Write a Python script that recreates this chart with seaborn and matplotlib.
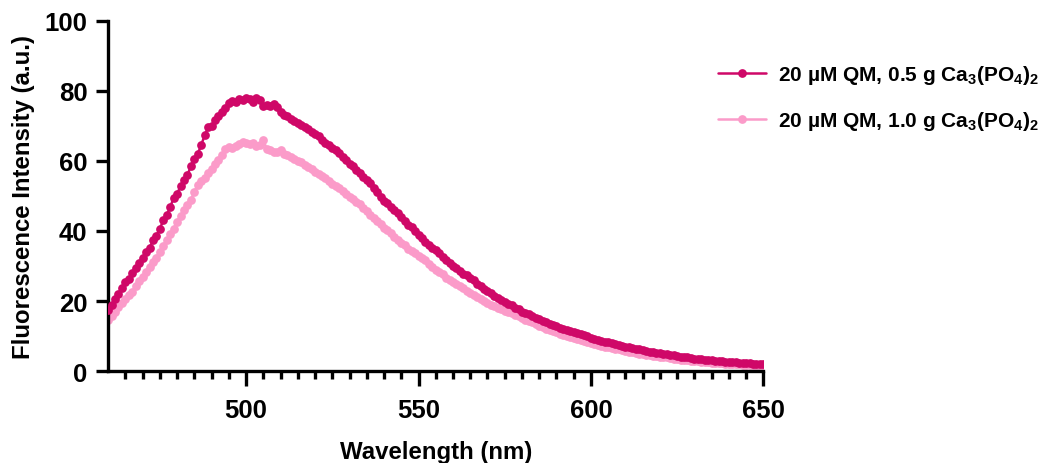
import numpy as np
import pandas as pd
import matplotlib
matplotlib.use("Agg")
import matplotlib.pyplot as plt
import seaborn as sns

# wavelength grid (nm), one reading per nm
wavelength = list(range(460, 651))

# 20 uM QM, 0.5 g Ca3(PO4)2
intensity_05 = [
    17.5, 19.0, 20.5, 22.0, 23.8, 25.3, 26.4, 28.0, 29.5, 30.8,
    32.2, 34.0, 35.2, 37.3, 38.6, 40.7, 43.0, 44.6, 46.8, 49.5,
    50.6, 52.8, 54.6, 56.0, 58.5, 60.6, 62.0, 64.6, 67.3, 69.6,
    70.1, 71.6, 72.8, 73.9, 75.1, 76.6, 77.2, 76.9, 77.7, 77.3,
    78.0, 77.6, 76.8, 77.9, 77.5, 75.6, 75.9, 75.8, 76.3, 75.4,
    74.0, 73.2, 72.8, 72.0, 71.4, 70.9, 70.2, 69.8, 69.0, 68.2,
    67.7, 67.0, 66.1, 65.2, 64.6, 63.8, 63.2, 62.4, 61.2, 60.2,
    59.2, 58.6, 57.5, 56.5, 55.4, 54.6, 53.7, 52.2, 51.0, 49.6,
    48.7, 47.9, 46.9, 46.0, 45.1, 44.0, 42.9, 41.8, 41.0, 39.9,
    38.9, 38.0, 37.0, 35.9, 35.2, 34.5, 33.6, 32.6, 31.6, 30.8,
    30.1, 29.5, 28.7, 27.8, 27.3, 26.7, 26.0, 25.0, 24.2, 23.5,
    22.8, 22.3, 21.5, 20.8, 20.3, 19.7, 19.3, 18.8, 18.1, 17.6,
    17.0, 16.6, 16.3, 15.7, 15.1, 14.9, 14.4, 14.0, 13.5, 13.1,
    12.8, 12.4, 12.1, 11.7, 11.4, 11.1, 10.8, 10.5, 10.2, 9.9,
    9.5, 9.3, 9.0, 8.7, 8.4, 8.2, 7.9, 7.7, 7.5, 7.3,
    7.0, 6.8, 6.6, 6.4, 6.3, 6.0, 5.8, 5.6, 5.5, 5.3,
    5.1, 5.0, 4.8, 4.6, 4.5, 4.3, 4.1, 4.0, 3.9, 3.7,
    3.6, 3.5, 3.4, 3.3, 3.2, 3.1, 3.0, 2.9, 2.8, 2.7,
    2.6, 2.6, 2.5, 2.4, 2.3, 2.3, 2.2, 2.1, 2.1, 2.0,
    2.0,
]

# 20 uM QM, 1.0 g Ca3(PO4)2
intensity_10 = [
    14.5, 15.8, 17.0, 18.2, 19.4, 20.6, 21.8, 22.7, 24.3, 25.6,
    26.8, 28.4, 29.6, 31.2, 32.4, 34.1, 35.8, 37.5, 39.1, 40.7,
    42.6, 44.3, 46.1, 47.4, 48.9, 51.2, 53.0, 54.4, 55.2, 56.6,
    57.8, 59.2, 60.4, 61.8, 63.4, 63.9, 63.8, 64.4, 64.9, 65.3,
    65.0, 64.8, 65.1, 64.3, 64.6, 65.9, 63.4, 63.0, 62.5, 62.6,
    63.2, 62.1, 61.8, 61.0, 60.6, 59.9, 59.6, 58.9, 58.2, 57.6,
    56.9, 56.4, 55.6, 55.0, 54.4, 53.5, 52.8, 52.3, 51.5, 50.7,
    49.8, 49.2, 48.4, 47.6, 46.5, 45.6, 44.6, 43.8, 42.8, 41.9,
    40.9, 40.2, 39.3, 38.4, 37.4, 36.6, 35.9, 35.0, 34.3, 33.6,
    32.9, 32.3, 31.6, 30.7, 29.7, 28.9, 28.2, 27.6, 26.7, 26.0,
    25.4, 24.8, 24.2, 23.6, 22.9, 22.4, 21.8, 21.2, 20.6, 20.0,
    19.5, 19.0, 18.6, 18.1, 17.6, 17.3, 16.9, 16.5, 16.0, 15.6,
    15.1, 14.7, 14.3, 13.9, 13.5, 12.9, 12.5, 12.1, 11.8, 11.4,
    11.1, 10.7, 10.4, 10.0, 9.7, 9.4, 9.1, 8.8, 8.5, 8.2,
    7.9, 7.7, 7.4, 7.2, 7.0, 6.8, 6.6, 6.4, 6.2, 6.0,
    5.8, 5.6, 5.4, 5.2, 5.0, 4.9, 4.7, 4.5, 4.4, 4.3,
    4.1, 4.0, 3.9, 3.7, 3.6, 3.5, 3.3, 3.2, 3.1, 3.0,
    2.9, 2.8, 2.7, 2.6, 2.5, 2.4, 2.4, 2.3, 2.2, 2.1,
    2.1, 2.0, 1.9, 1.9, 1.8, 1.8, 1.7, 1.7, 1.6, 1.6,
    1.6,
]

labels = [r"20 µM QM, 0.5 g Ca$_3$(PO$_4$)$_2$",
          r"20 µM QM, 1.0 g Ca$_3$(PO$_4$)$_2$"]
colors = ["#cf0868", "#fb9bc9"]
x_major = [500, 550, 600, 650]
y_major = [0, 20, 40, 60, 80, 100]

sns.set_style("ticks")
plt.rcParams["font.family"] = ["Liberation Sans", "DejaVu Sans"]
plt.rcParams["font.weight"] = "bold"
plt.rcParams["text.color"] = "black"
plt.rcParams["axes.labelcolor"] = "black"
plt.rcParams["xtick.color"] = "black"
plt.rcParams["ytick.color"] = "black"
plt.rcParams["axes.edgecolor"] = "black"
plt.rcParams["mathtext.fontset"] = "custom"
plt.rcParams["mathtext.rm"] = "Liberation Sans:bold"
plt.rcParams["mathtext.it"] = "Liberation Sans:bold"
plt.rcParams["mathtext.default"] = "rm"

fig = plt.figure(figsize=(10.5, 4.64), dpi=100)
ax = fig.add_axes([0.103, 0.198, 0.624, 0.755])

sns.lineplot(x=wavelength, y=intensity_05, ax=ax, color=colors[0], marker="o",
             markersize=6.3, markeredgewidth=0, linewidth=1.8, label=labels[0], zorder=3)
sns.lineplot(x=wavelength, y=intensity_10, ax=ax, color=colors[1], marker="o",
             markersize=6.3, markeredgewidth=0, linewidth=1.8, label=labels[1], zorder=2)

ax.set_xlim(460, 650)
ax.set_ylim(0, 100)
ax.set_xticks(x_major)
ax.set_xticks([v for v in range(465, 650, 5) if v not in x_major], minor=True)
ax.set_yticks(y_major)
sns.despine(ax=ax)
for s in ["left", "bottom"]:
    ax.spines[s].set_linewidth(2.4)
    ax.spines[s].set_color("black")
ax.tick_params(axis="both", which="major", width=2.4, labelsize=18.5, pad=6,
               colors="black")
ax.tick_params(axis="y", which="major", length=9)
ax.tick_params(axis="x", which="major", length=11, pad=8)
ax.tick_params(axis="x", which="minor", length=6, width=2.4, colors="black")
for t in ax.get_xticklabels() + ax.get_yticklabels():
    t.set_fontweight("bold")

ax.set_xlabel("Wavelength (nm)", fontsize=17.3, fontweight="bold", labelpad=13)
ax.set_ylabel("Fluorescence Intensity (a.u.)", fontsize=17.3, fontweight="bold", labelpad=7)

ax.get_legend().remove()
handles, _ = ax.get_legend_handles_labels()
leg = fig.legend(handles, labels, loc="upper left", bbox_to_anchor=(0.676, 0.88),
                 frameon=False, fontsize=15, handlelength=2.3, labelspacing=1.1,
                 handletextpad=0.55, borderaxespad=0)
for t in leg.get_texts():
    t.set_fontweight("bold")

fig.savefig("out.png", dpi=100)
